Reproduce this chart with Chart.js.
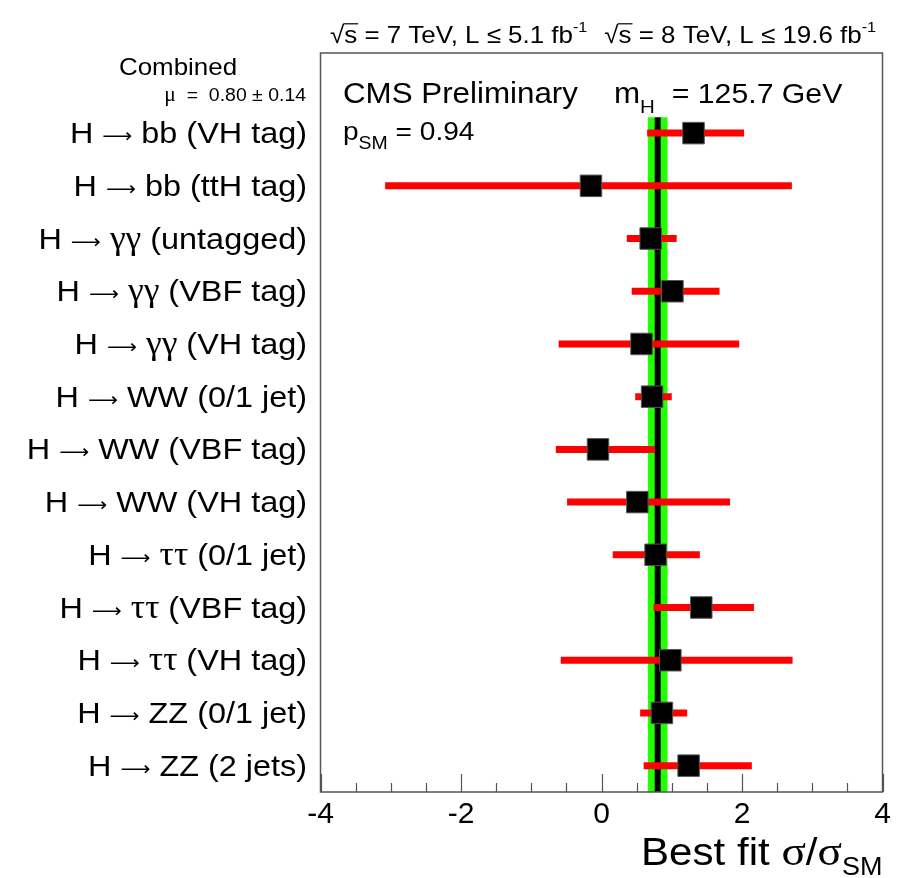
<!DOCTYPE html>
<html>
<head>
<meta charset="utf-8">
<script src="https://cdn.jsdelivr.net/npm/chart.js@4.4.1/dist/chart.umd.min.js"></script>
<style>
  html, body { margin: 0; padding: 0; background: #ffffff; }
  #wrap { width: 908px; height: 878px; }
</style>
</head>
<body>
<div id="wrap"><canvas id="chartMu" width="908" height="878"></canvas></div>
<script>
// Canales de desintegración (de arriba abajo)
const categories = [
    'H \u2192 bb (VH tag)',
    'H \u2192 bb (ttH tag)',
    'H \u2192 \u03b3\u03b3 (untagged)',
    'H \u2192 \u03b3\u03b3 (VBF tag)',
    'H \u2192 \u03b3\u03b3 (VH tag)',
    'H \u2192 WW (0/1 jet)',
    'H \u2192 WW (VBF tag)',
    'H \u2192 WW (VH tag)',
    'H \u2192 \u03c4\u03c4 (0/1 jet)',
    'H \u2192 \u03c4\u03c4 (VBF tag)',
    'H \u2192 \u03c4\u03c4 (VH tag)',
    'H \u2192 ZZ (0/1 jet)',
    'H \u2192 ZZ (2 jets)'
];

// Mejor ajuste sigma/sigma_SM y extremos del intervalo de 1 sigma
const bestFit   = [1.31, -0.15, 0.70, 1.01, 0.57, 0.72, -0.05, 0.51, 0.77, 1.42, 0.98, 0.86, 1.24];
const lowerEdge = [0.65, -3.08, 0.36, 0.43, -0.61, 0.48, -0.65, -0.49, 0.16, 0.74, -0.58, 0.55, 0.60];
const upperEdge = [2.03, 2.71, 1.07, 1.68, 1.96, 1.00, 0.76, 1.83, 1.40, 2.17, 2.72, 1.22, 2.14];

// Resultado combinado (la banda empieza justo encima del primer canal)
const combinedMu = 0.80;
const combinedErr = 0.14;
const bandTopRow = -0.3;

// Eje x
const xTickLabels = [-4, -2, 0, 2, 4];
const xMinorStep = 0.5;

const SANS = '"Liberation Sans", Arial, Helvetica, sans-serif';
const SERIF = '"Liberation Serif", "Times New Roman", serif';
const ARROW_FONT = '"DejaVu Sans", sans-serif';
const STRETCH = 1.08;   // el Helvetica de ROOT sale algo más ancho
const GREEK = /[\u0370-\u03ff]/;

// Ancho de un trozo de texto (con estiramiento horizontal)
function partWidth(ctx, p) {
    if (p.arrow) return p.arrow;
    ctx.font = p.size + 'px ' + (p.family || SANS);
    return ctx.measureText(p.text).width * STRETCH;
}

// Dibuja una secuencia de trozos (subíndices, superíndices, letras griegas, flechas)
function drawRich(ctx, x, y, parts) {
    let cx = x;
    parts.forEach(p => {
        const w = partWidth(ctx, p);
        ctx.save();
        if (p.arrow) {
            ctx.font = p.size + 'px ' + ARROW_FONT;
            const gw = ctx.measureText('\u27f6').width;
            ctx.translate(cx, y + (p.dy || 0));
            ctx.scale(w / gw, 1);
            ctx.fillText('\u27f6', 0, 0);
        } else {
            ctx.font = p.size + 'px ' + (p.family || SANS);
            ctx.translate(cx, y + (p.dy || 0));
            ctx.scale(STRETCH, 1);
            ctx.fillText(p.text, 0, 0);
        }
        ctx.restore();
        cx += w;
    });
    return cx;
}

function richWidth(ctx, parts) {
    return parts.reduce((s, p) => s + partWidth(ctx, p), 0);
}

// Convierte una etiqueta en trozos: texto normal, griego (serif) y flecha
function labelParts(label, size) {
    const parts = [];
    let buf = '', bufGreek = false;
    const flush = () => {
        if (buf) parts.push({ text: buf, size: bufGreek ? size + 3 : size, family: bufGreek ? SERIF : SANS });
        buf = '';
    };
    for (const ch of label) {
        if (ch === '\u2192') {
            flush();
            parts.push({ arrow: 30, size: 19, dy: -1 });
            continue;
        }
        const g = GREEK.test(ch);
        if (buf && g !== bufGreek && ch !== ' ') flush();
        if (!buf) bufGreek = g;
        buf += ch;
    }
    flush();
    return parts;
}

// sqrt(s) con barra encima
function drawSqrtS(ctx, x, y, size) {
    const wRoot = richWidth(ctx, [{ text: '\u221a', size: size }]);
    const wS = richWidth(ctx, [{ text: 's', size: size }]);
    drawRich(ctx, x, y, [{ text: '\u221as', size: size }]);
    ctx.save();
    ctx.strokeStyle = '#000';
    ctx.lineWidth = 1.2;
    ctx.beginPath();
    ctx.moveTo(x + wRoot - 1, y - size * 0.8);
    ctx.lineTo(x + wRoot + wS + 1, y - size * 0.8);
    ctx.stroke();
    ctx.restore();
    return x + wRoot + wS;
}

const cmsPlugin = {
    id: 'cmsDecor',
    beforeDatasetsDraw(chart) {
        const { ctx, chartArea: a, scales: { x, y } } = chart;
        ctx.save();
        // Banda verde del resultado combinado y línea central
        const top = y.getPixelForValue(bandTopRow);
        const xl = x.getPixelForValue(combinedMu - combinedErr);
        const xr = x.getPixelForValue(combinedMu + combinedErr);
        ctx.fillStyle = '#22ff00';
        ctx.fillRect(xl, top, xr - xl, a.bottom - top);
        const xc = x.getPixelForValue(combinedMu);
        ctx.fillStyle = '#000000';
        ctx.fillRect(xc - 3, top, 6, a.bottom - top);
        ctx.restore();
    },
    afterDraw(chart) {
        const { ctx, chartArea: a, scales: { x, y } } = chart;
        ctx.save();

        // Marco
        ctx.strokeStyle = '#555555';
        ctx.lineWidth = 1.5;
        ctx.strokeRect(a.left, a.top, a.right - a.left, a.bottom - a.top);

        // Marcas del eje x (hacia dentro)
        ctx.lineWidth = 1.2;
        ctx.beginPath();
        for (let v = x.min; v <= x.max + 1e-9; v += xMinorStep) {
            const px = Math.round(x.getPixelForValue(v)) + 0.5;
            const major = Math.abs(v / 2 - Math.round(v / 2)) < 1e-9;
            ctx.moveTo(px, a.bottom);
            ctx.lineTo(px, a.bottom - (major ? 18 : 9));
        }
        ctx.stroke();

        ctx.fillStyle = '#000000';
        ctx.textBaseline = 'alphabetic';
        ctx.textAlign = 'left';

        // Etiquetas de los canales
        categories.forEach((c, i) => {
            const parts = labelParts(c, 30);
            const py = y.getPixelForValue(i) + 10;
            drawRich(ctx, 307 - richWidth(ctx, parts), py, parts);
        });

        // Cabecera: energías y luminosidades
        const hs = 24;
        let hx = 330;
        const hy = 43;
        hx = drawSqrtS(ctx, hx, hy, hs);
        hx = drawRich(ctx, hx, hy, [
            { text: ' = 7 TeV, L \u2264 5.1 fb', size: hs },
            { text: '-1', size: 15, dy: -11 }
        ]);
        hx += 17;
        hx = drawSqrtS(ctx, hx, hy, hs);
        drawRich(ctx, hx, hy, [
            { text: ' = 8 TeV, L \u2264 19.6 fb', size: hs },
            { text: '-1', size: 15, dy: -11 }
        ]);

        // Textos dentro del marco
        drawRich(ctx, 343, 103, [{ text: 'CMS Preliminary', size: 29 }]);
        drawRich(ctx, 614, 103, [
            { text: 'm', size: 29 },
            { text: 'H', size: 19, dy: 10 },
            { text: '  = 125.7 GeV', size: 28 }
        ]);
        drawRich(ctx, 343, 140, [
            { text: 'p', size: 26 },
            { text: 'SM', size: 18, dy: 9 },
            { text: ' = 0.94', size: 26 }
        ]);

        // Resultado combinado a la izquierda
        const comb = [{ text: 'Combined', size: 24 }];
        drawRich(ctx, 178 - richWidth(ctx, comb) / 2, y.getPixelForValue(-1.27) + 9, comb);
        const mu = [
            { text: '\u03bc', size: 20, family: SERIF },
            { text: '  =  0.80 \u00b1 0.14', size: 18 }
        ];
        drawRich(ctx, 306 - richWidth(ctx, mu), y.getPixelForValue(-0.74) + 7, mu);

        // Título del eje x
        const title = [
            { text: 'Best fit ', size: 39 },
            { text: '\u03c3', size: 42, family: SERIF },
            { text: '/', size: 39 },
            { text: '\u03c3', size: 42, family: SERIF },
            { text: 'SM', size: 25, dy: 10 }
        ];
        drawRich(ctx, a.right - richWidth(ctx, title), 865, title);

        ctx.restore();
    }
};

const errorBarSets = categories.map((c, i) => ({
    type: 'scatter',
    showLine: true,
    data: [{ x: lowerEdge[i], y: i }, { x: upperEdge[i], y: i }],
    borderColor: '#ff0000',
    borderWidth: 7,
    borderCapStyle: 'butt',
    pointRadius: 0,
    clip: false,
    order: 2
}));

const markerSet = {
    type: 'scatter',
    data: bestFit.map((v, i) => ({ x: v, y: i })),
    pointStyle: 'rect',
    pointRadius: 15.2,
    backgroundColor: '#000000',
    borderColor: '#555555',
    borderWidth: 1,
    clip: false,
    order: 1
};

new Chart(document.getElementById('chartMu').getContext('2d'), {
    type: 'scatter',
    data: { datasets: [...errorBarSets, markerSet] },
    options: {
        responsive: false,
        animation: false,
        devicePixelRatio: 1,
        layout: { padding: { top: 53, right: 25.5, left: 0, bottom: 0 } },
        plugins: { legend: { display: false }, tooltip: { enabled: false } },
        scales: {
            x: {
                type: 'linear',
                min: -4,
                max: 4,
                afterBuildTicks: (s) => { s.ticks = xTickLabels.map(v => ({ value: v })); },
                ticks: {
                    color: '#000000',
                    font: { family: SANS, size: 30 },
                    padding: 5,
                    maxRotation: 0
                },
                grid: { display: false, drawTicks: false },
                border: { display: false },
                afterFit: (s) => { s.height = 86; }
            },
            y: {
                type: 'linear',
                reverse: true,
                min: -1.52,
                max: 12.5,
                afterBuildTicks: (s) => { s.ticks = categories.map((c, i) => ({ value: i })); },
                ticks: { display: false },
                grid: { display: false, drawTicks: false },
                border: { display: false },
                afterFit: (s) => { s.width = 320.5; }
            }
        }
    },
    plugins: [cmsPlugin]
});
</script>
</body>
</html>
